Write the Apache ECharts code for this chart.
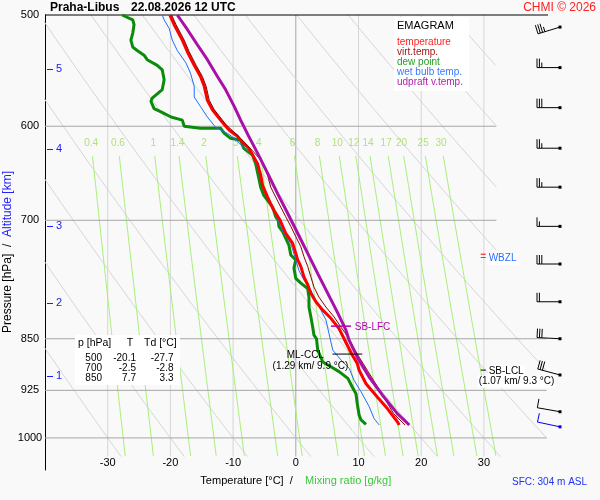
<!DOCTYPE html>
<html><head><meta charset="utf-8">
<script src="https://cdn.jsdelivr.net/npm/echarts@6/dist/echarts.min.js"></script>
<style>html,body{margin:0;padding:0;background:#f9f9f9}#c{width:600px;height:500px}</style>
</head><body><div id="c"></div>
<script>
// ---------- DATA ----------
const pressureTicks = [500, 600, 700, 850, 925, 1000];
const tempTicks = [-30, -20, -10, 0, 10, 20, 30];
const isotherms = [-30, -20, -10, 0, 10, 20, 30];
const isobars = [600, 700, 850, 925, 1000];
const isobarEndT = [32, 32, 40, 40, 40];
const dryAdiabats = [-30, -20, -10, 0, 10, 20, 30, 40, 50, 60, 70, 80, 90];
const mixingRatios = [0.4, 0.6, 1, 1.4, 2, 3, 4, 6, 8, 10, 12, 14, 17, 20, 25, 30];
const altKm = [1, 2, 3, 4, 5];
const altP = [904, 801, 707, 623, 546];

// [T degC, p hPa]
const temperature = [[-20.1,500],[-19.4,508],[-18.1,521],[-17.3,531],[-16.2,543],[-15.2,553],[-14.6,562],[-14.1,575],[-13.3,584],[-12.0,594],[-10.9,602],[-10.6,604],[-9.3,610],[-8.8,614],[-7.5,622],[-7.2,624],[-6.1,638],[-5.6,650],[-5.3,661],[-4.5,674],[-3.7,686],[-2.5,700],[-1.6,715],[-0.5,727],[0.0,739],[0.3,747],[0.8,755],[1.3,768],[1.9,778],[2.4,789],[3.2,800],[4.3,811],[5.6,822],[6.9,836],[7.7,850],[9.0,873],[9.8,885],[10.1,895],[11.2,915],[13.0,935],[14.6,953],[16.2,974],[16.5,979]];
const virtTemp = [[-19.8,500],[-19.1,508],[-17.8,521],[-17.0,531],[-15.9,543],[-14.9,553],[-14.3,562],[-13.8,575],[-13.0,584],[-11.7,594],[-11.2,598],[-8.8,612],[-6.7,626],[-5.6,634],[-4.5,650],[-4.0,663],[-3.2,674],[-2.4,685],[-1.6,696],[-0.8,707],[0.0,719],[0.8,731],[1.3,743],[1.9,755],[2.4,768],[2.9,781],[3.7,794],[4.8,807],[6.1,820],[7.2,834],[8.3,847],[8.8,856],[10.1,876],[11.4,895],[12.4,910],[14.0,935],[15.6,961],[17.4,979]];
const dewPoint = [[-27.7,500],[-26.0,504],[-25.8,508],[-26.0,515],[-26.3,521],[-26.0,527],[-25.3,530],[-24.2,534],[-23.7,538],[-22.1,543],[-21.3,547],[-21.0,556],[-21.3,565],[-22.1,569],[-22.9,573],[-23.1,576],[-22.6,583],[-21.5,586],[-19.9,591],[-18.1,594],[-17.8,600],[-15.2,602],[-12.0,602],[-11.4,607],[-10.4,612],[-8.8,614],[-8.3,622],[-6.9,629],[-6.4,638],[-5.6,663],[-5.1,672],[-3.7,685],[-3.2,696],[-2.8,700],[-2.7,707],[-2.1,713],[-1.6,721],[-1.1,729],[-0.8,741],[0.0,747],[-0.3,757],[0.0,770],[0.8,776],[1.9,783],[2.1,794],[2.1,807],[2.4,820],[2.7,834],[2.9,845],[3.3,850],[3.5,866],[4.3,883],[5.6,890],[6.9,897],[8.3,907],[9.0,920],[9.6,930],[9.8,945],[10.1,963],[10.4,971],[11.2,978]];
const wetBulb = [[-21.3,500],[-21.0,504],[-20.2,511],[-19.7,521],[-18.9,530],[-17.5,541],[-16.8,550],[-16.2,562],[-16.2,572],[-15.2,581],[-14.1,591],[-12.8,601],[-10.9,607],[-9.8,612],[-8.3,621],[-6.9,629],[-5.9,645],[-5.3,661],[-4.5,675],[-3.5,688],[-2.7,702],[-1.9,715],[-0.8,727],[0.0,747],[0.5,760],[1.3,772],[2.4,785],[3.2,798],[4.0,811],[4.8,824],[5.3,843],[5.9,866],[7.2,880],[8.5,892],[9.3,910],[10.4,927],[11.7,950],[12.5,969],[13.3,979]];
const updraft = [[-18.9,500],[-17.3,512],[-15.7,525],[-14.1,538],[-12.5,553],[-11.2,565],[-9.8,581],[-8.8,594],[-7.5,610],[-6.1,627],[-4.5,648],[-2.9,670],[-1.3,692],[0.3,715],[1.9,739],[3.5,764],[5.1,789],[6.7,815],[8.0,838],[8.5,852],[9.8,876],[11.7,905],[13.8,932],[16.2,961],[18.1,979]];

const tableP = [500, 700, 850];
const tableT = [-20.1, -2.5, 7.7];
const tableTd = [-27.7, -2.8, 3.3];

const barbP = [510, 545, 582, 622, 663, 707, 752, 800, 850, 902, 958];
const barbSpeed = [35, 25, 30, 25, 25, 15, 30, 20, 30, 30, 10];
const barbDir = [253, 270, 270, 270, 270, 270, 270, 270, 273, 285, 280];
const sfcBarb = [982, 10, 282];

// marker lines: [T1, T2, p, color]
const markerLines = [
  [5.6, 8.8, 832.6, '#b000b0'],
  [5.85, 10.6, 871.6, '#000000'],
  [29.5, 30.3, 894.8, '#000000'],
  [29.5, 30.3, 740, '#ff0000'],
  [29.5, 30.3, 744, '#2a6cff']
];
// annotations: [text, T(left), p(center), color, background]
const annotations = [
  ['SB-LFC', 9.4, 833.5, '#b000b0', null],
  ['ML-CCL', -1.45, 873, '#000000', null],
  ['(1.29 km/ 9.9 °C)', -3.7, 889, '#000000', null],
  ['FZL', 30.6, 747, '#ff0000', null],
  ['WBZL', 30.6, 745.5, '#2a6cff', '#ffffff'],
  ['SB-LCL', 30.6, 897, '#000000', '#ffffff'],
  ['(1.07 km/ 9.3 °C)', 29.0, 912, '#000000', '#ffffff']
];

// ---------- helpers ----------
const FONT = '"Liberation Sans", Arial, sans-serif';
const P_DIAG = 1031;
const BARB_X = 560;
function satT(w, p){ const e = w*p/(622+w); const l = Math.log(e/6.112); return 243.5*l/(17.67-l); }
function thetaT(th, p){ return (th+273.15)*Math.pow(p/1000, 0.2857) - 273.15; }
function tMax(p){ return p < 815 ? 32 : 40; }

const series = [];
function bgLine(data, color, width, z, clip){
  series.push({type:'line', data, showSymbol:false, symbol:'none', silent:true, animation:false, clip: clip!==false, z: z||1,
    lineStyle:{color, width: width||1}});
}
isotherms.forEach(t => bgLine([[t,500],[t,P_DIAG]], t===0 ? '#a6a6a6' : '#d6d6d6', 1, 1));
dryAdiabats.forEach(th => {
  const d = [];
  for (let p = 500; p <= P_DIAG; p += 1) { const T = thetaT(th, p); if (T <= tMax(p)) d.push([T, p]); }
  if (d.length) bgLine(d, '#d4d4d4', 1, 1);
});
mixingRatios.forEach(w => {
  const d = [];
  for (let p = 630; p <= P_DIAG; p += 10) d.push([satT(w, p), p]);
  d.push([satT(w, P_DIAG), P_DIAG]);
  bgLine(d, '#a8f07a', 1, 2);
});
isobars.forEach((p, i) => bgLine([[-40,p],[isobarEndT[i],p]], '#a6a6a6', 1, 2));
bgLine([[-40,500],[47,500]], '#000', 1, 3, false);

series.push({type:'scatter', symbolSize:0, silent:true, z:3, animation:false,
  data: mixingRatios.map(w => [satT(w, 616.5), 616.5, w]),
  label:{show:true, position:'inside', formatter: p => String(p.value[2]), color:'#9edb5a', fontSize:10, fontFamily:FONT}});

const prof = (data, color, width, z) => series.push({type:'line', data, symbol:'none', showSymbol:false, silent:true, animation:false, z, lineStyle:{color, width}});
prof(dewPoint, '#0a8c0a', 3, 5);
prof(wetBulb, '#1e6fff', 1, 6);
prof(temperature, '#ff0000', 3, 7);
prof(virtTemp, '#8b0000', 1, 8);
prof(updraft, '#a810a8', 3, 9);

markerLines.forEach(m => bgLine([[m[0],m[2]],[m[1],m[2]]], m[3], m[3]==='#b000b0'?1.5:1, 10, false));

series.push({type:'custom', coordinateSystem:'cartesian2d', clip:false, silent:true, z:11, animation:false,
  data: annotations.map((a,i) => [a[1], a[2], i]), encode:{x:0, y:1},
  renderItem: (params, api) => {
    const a = annotations[api.value(2)];
    const pt = api.coord([api.value(0), api.value(1)]);
    const st = {text:a[0], fill:a[3], font:'10px '+FONT, align:'left', verticalAlign:'middle'};
    if (a[4]) { st.backgroundColor = a[4]; st.padding = [1,1]; }
    return {type:'text', x:pt[0], y:pt[1], style:st};
  }});

series.push({type:'custom', coordinateSystem:'cartesian2d', clip:false, silent:true, z:11, animation:false,
  data: altP.map((p,i) => [-40, p, altKm[i]]), encode:{x:0, y:1},
  renderItem: (params, api) => {
    const pt = api.coord([api.value(0), api.value(1)]);
    const y = Math.round(pt[1]) + 0.5;
    return {type:'group', children:[
      {type:'line', shape:{x1:pt[0]+2, y1:y, x2:pt[0]+8, y2:y}, style:{stroke:'#1a1aff', lineWidth:1}},
      {type:'text', x:pt[0]+14, y:pt[1], style:{text:String(api.value(2)), fill:'#1a1aff', font:'11px '+FONT, align:'center', verticalAlign:'middle'}}
    ]};
  }});

function barbGroup(cx, cy, spd, dir, color){
  const r = dir*Math.PI/180, ux = Math.sin(r), uy = -Math.cos(r);
  const px = -uy, py = ux;
  const L = 23, tx = cx + ux*L, ty = cy + uy*L;
  const ch = [
    {type:'line', shape:{x1:cx, y1:cy, x2:tx, y2:ty}, style:{stroke:color, lineWidth:1}},
    {type:'rect', shape:{x:cx-1.5, y:cy-1.5, width:3, height:3}, style:{fill:color}}
  ];
  let s = spd, k = 0;
  while (s >= 10) {
    const bx = tx - ux*k*2.4, by = ty - uy*k*2.4;
    ch.push({type:'line', shape:{x1:bx, y1:by, x2:bx+px*9, y2:by+py*9}, style:{stroke:color, lineWidth:1}});
    s -= 10; k++;
  }
  if (s >= 5) {
    const bx = tx - ux*k*2.4, by = ty - uy*k*2.4;
    ch.push({type:'line', shape:{x1:bx, y1:by, x2:bx+px*5, y2:by+py*5}, style:{stroke:color, lineWidth:1}});
  }
  return {type:'group', children:ch};
}
series.push({type:'custom', coordinateSystem:'cartesian2d', clip:false, silent:true, z:12, animation:false,
  data: barbP.map((p,i) => [0, p, barbSpeed[i], barbDir[i]]), encode:{x:0, y:1},
  renderItem: (params, api) => barbGroup(BARB_X, api.coord([0, api.value(1)])[1], api.value(2), api.value(3), '#000')});
series.push({type:'custom', coordinateSystem:'cartesian2d', clip:false, silent:true, z:12, animation:false,
  data: [[0, sfcBarb[0], sfcBarb[1], sfcBarb[2]]], encode:{x:0, y:1},
  renderItem: (params, api) => barbGroup(BARB_X, api.coord([0, api.value(1)])[1], api.value(2), api.value(3), '#0000ee')});

const graphic = [
  {type:'text', x:50, y:8, style:{text:'Praha-Libus', font:'bold 12px '+FONT, fill:'#000', verticalAlign:'middle'}},
  {type:'text', x:131, y:8, style:{text:'22.08.2026 12 UTC', font:'bold 12px '+FONT, fill:'#000', verticalAlign:'middle'}},
  {type:'text', x:596, y:7.5, style:{text:'CHMI © 2026', font:'12px '+FONT, fill:'#ff2020', align:'right', verticalAlign:'middle'}},
  {type:'text', x:8, y:252, rotation:Math.PI/2, style:{text:'{a|Pressure [hPa]}  /  {b|Altitude [km]}', font:'12px '+FONT, fill:'#000', align:'center', verticalAlign:'middle',
    rich:{a:{fontSize:12, fontFamily:FONT, fill:'#000'}, b:{fontSize:12, fontFamily:FONT, fill:'#2222ff'}}}},
  {type:'rect', shape:{x:394, y:17, width:75, height:74}, style:{fill:'#ffffff'}, z:20},
  {type:'text', x:397, y:26, z:21, style:{text:'EMAGRAM', font:'11px '+FONT, fill:'#000', verticalAlign:'middle'}},
  {type:'text', x:397, y:42, z:21, style:{text:'temperature', font:'10px '+FONT, fill:'#ff2020', verticalAlign:'middle'}},
  {type:'text', x:397, y:52, z:21, style:{text:'virt.temp.', font:'10px '+FONT, fill:'#a01818', verticalAlign:'middle'}},
  {type:'text', x:397, y:62, z:21, style:{text:'dew point', font:'10px '+FONT, fill:'#22a022', verticalAlign:'middle'}},
  {type:'text', x:397, y:72, z:21, style:{text:'wet bulb temp.', font:'10px '+FONT, fill:'#3a78ff', verticalAlign:'middle'}},
  {type:'text', x:397, y:82, z:21, style:{text:'udpraft v.temp.', font:'10px '+FONT, fill:'#b020b0', verticalAlign:'middle'}},
  {type:'rect', shape:{x:75, y:335, width:105, height:50}, style:{fill:'#ffffff'}, z:20},
  {type:'text', x:78, y:343.5, z:21, style:{text:'p [hPa]', font:'10.5px '+FONT, fill:'#000', verticalAlign:'middle'}},
  {type:'text', x:130, y:343.5, z:21, style:{text:'T', font:'10.5px '+FONT, fill:'#000', align:'center', verticalAlign:'middle'}},
  {type:'text', x:144, y:343.5, z:21, style:{text:'Td [°C]', font:'10.5px '+FONT, fill:'#000', verticalAlign:'middle'}},
  {type:'text', x:512, y:482, style:{text:'SFC: 304 m ASL', font:'10px '+FONT, fill:'#2233ee', verticalAlign:'middle'}}
];
tableP.forEach((p, i) => {
  const y = 358.5 + i*10;
  graphic.push({type:'text', x:102, y, z:21, style:{text:String(p), font:'10px '+FONT, fill:'#000', align:'right', verticalAlign:'middle'}});
  graphic.push({type:'text', x:136, y, z:21, style:{text:tableT[i].toFixed(1), font:'10px '+FONT, fill:'#000', align:'right', verticalAlign:'middle'}});
  graphic.push({type:'text', x:173.5, y, z:21, style:{text:tableTd[i].toFixed(1), font:'10px '+FONT, fill:'#000', align:'right', verticalAlign:'middle'}});
});

const chart = echarts.init(document.getElementById('c'), null, {renderer:'canvas'});
chart.setOption({
  backgroundColor:'#f9f9f9',
  animation:false,
  grid:{left:45, top:15, right:53.4, bottom:30, containLabel:false, outerBoundsMode:'none'},
  xAxis:{type:'value', min:-40, max:40,
    axisLine:{show:false}, axisTick:{show:false}, splitLine:{show:false},
    axisLabel:{customValues:tempTicks, inside:true, margin:2, fontSize:11, color:'#000', fontFamily:FONT},
    name:'{a|Temperature [°C]}  /    {b|Mixing ratio [g/kg]}', nameLocation:'middle', nameGap:3,
    nameTextStyle:{fontSize:11, fontFamily:FONT, color:'#000', rich:{a:{fontSize:11, fontFamily:FONT, color:'#000'}, b:{fontSize:11, fontFamily:FONT, color:'#3cc83c'}}}},
  yAxis:{type:'log', logBase:10, min:500, max:1054, inverse:true,
    axisLine:{show:true, onZero:false, lineStyle:{color:'#000', width:1}}, axisTick:{show:false}, splitLine:{show:false},
    axisLabel:{customValues:pressureTicks, formatter: v => String(v), fontSize:11, color:'#000', margin:15, align:'center', fontFamily:FONT}},
  graphic,
  series
});
</script></body></html>
